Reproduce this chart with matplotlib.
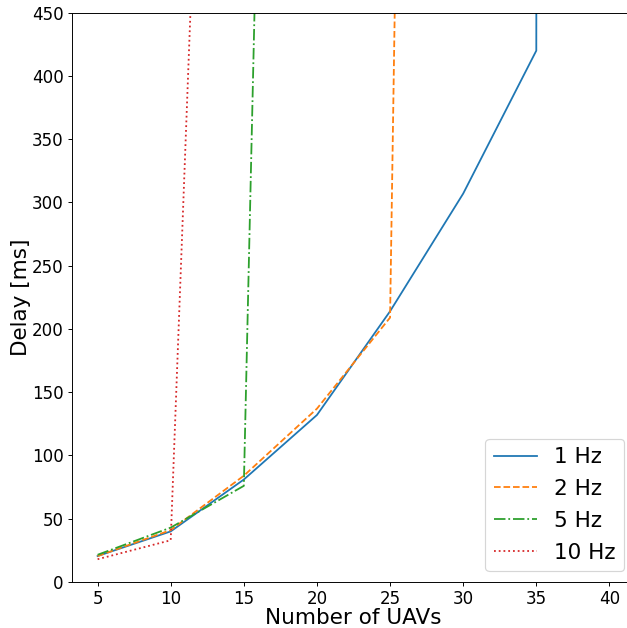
import numpy as np
import matplotlib
matplotlib.use('Agg')
import matplotlib.pyplot as plt

# delay [ms] vs number of UAVs, per update rate
uav_1hz = [5, 10, 15, 20, 25, 30, 35, 40]
delay_1hz = [20.5, 40, 81, 132, 214, 307, 420, 50000]

uav_2hz = [5, 10, 15, 20, 25, 30]
delay_2hz = [20.5, 41, 84, 137, 209, 4000]

uav_5hz = [5, 10, 15, 20]
delay_5hz = [21.5, 43, 76, 2640]

uav_10hz = [5, 10, 15]
delay_10hz = [18, 33, 1580]

dpi = 86
fig = plt.figure(figsize=(627/dpi, 628/dpi), dpi=dpi)
# axes run slightly past the right edge, like the original crop
ax = fig.add_axes([72/627, 1-582/628, (635-72)/627, (582-12.7)/628])

ax.plot(uav_1hz, delay_1hz, '-', label='1 Hz', color='tab:blue', linewidth=1.5)
ax.plot(uav_2hz, delay_2hz, '--', label='2 Hz', color='tab:orange', linewidth=1.5)
ax.plot(uav_5hz, delay_5hz, '-.', label='5 Hz', color='tab:green', linewidth=1.5)
ax.plot(uav_10hz, delay_10hz, ':', label='10 Hz', color='tab:red', linewidth=1.5)

ax.set_ylim(0, 450)
ax.set_xlabel('Number of UAVs', fontsize=18, labelpad=0)
ax.set_ylabel('Delay [ms]', fontsize=18, labelpad=1)
ax.tick_params(labelsize=14)
ax.legend(loc='lower right', fontsize=18, labelspacing=0.55)

fig.savefig('out.png', dpi=dpi)
